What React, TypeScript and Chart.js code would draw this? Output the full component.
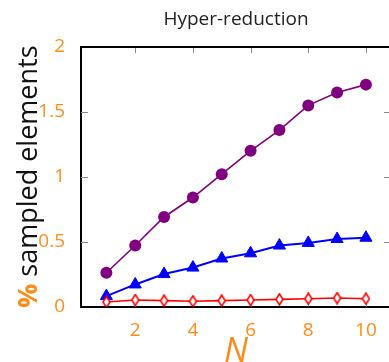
import React, { useEffect, useRef } from "react";
import { Chart, registerables } from "chart.js";

Chart.register(...registerables);

const xValues = [1, 2, 3, 4, 5, 6, 7, 8, 9, 10];
const purpleValues = [0.26, 0.47, 0.69, 0.84, 1.02, 1.2, 1.36, 1.55, 1.65, 1.71];
const blueValues = [0.08, 0.17, 0.25, 0.3, 0.37, 0.41, 0.47, 0.49, 0.52, 0.53];
const redValues = [0.035, 0.05, 0.045, 0.04, 0.045, 0.05, 0.055, 0.06, 0.065, 0.06];
const xTickValues = [2, 4, 6, 8, 10];
const yTickValues = [0, 0.5, 1, 1.5, 2];
const yInnerTicks = [0.5, 1, 1.5];
const titleText = "Hyper-reduction";
const yTitlePrefix = "%";
const yTitleRest = " sampled elements";
const xTitleText = "N";

const ORANGE = "#ff8c1a";
const FONT = "'Open Sans', Lato, sans-serif";

function makeDiamond(): HTMLCanvasElement {
  const c = document.createElement("canvas");
  c.width = 9;
  c.height = 13;
  const g = c.getContext("2d")!;
  g.beginPath();
  g.moveTo(4.5, 1);
  g.lineTo(8, 6.5);
  g.lineTo(4.5, 12);
  g.lineTo(1, 6.5);
  g.closePath();
  g.fillStyle = "#ffffff";
  g.fill();
  g.strokeStyle = "#ff0000";
  g.lineWidth = 1.6;
  g.stroke();
  return c;
}

const framePlugin = {
  id: "frame",
  beforeDatasetsDraw(chart: any) {
    const { ctx, chartArea, scales } = chart;
    const { left, right, top, bottom } = chartArea;
    const x = scales.x;
    const y = scales.y;
    ctx.save();
    ctx.strokeStyle = "#8a8a8a";
    ctx.lineWidth = 1;
    xTickValues.forEach((v) => {
      const px = Math.round(x.getPixelForValue(v)) + 0.5;
      ctx.beginPath();
      ctx.moveTo(px, top);
      ctx.lineTo(px, top + 6);
      ctx.moveTo(px, bottom);
      ctx.lineTo(px, bottom - 6);
      ctx.stroke();
    });
    yInnerTicks.forEach((v) => {
      const py = Math.round(y.getPixelForValue(v)) + 0.5;
      ctx.beginPath();
      ctx.moveTo(left, py);
      ctx.lineTo(left + 7, py);
      ctx.moveTo(right, py);
      ctx.lineTo(right - 5, py);
      ctx.stroke();
    });
    ctx.strokeStyle = "#000000";
    ctx.lineWidth = 2;
    ctx.beginPath();
    ctx.moveTo(left - 1, top);
    ctx.lineTo(right, top);
    ctx.stroke();
    ctx.restore();
  },
  afterDraw(chart: any) {
    const { ctx, chartArea } = chart;
    const { top, bottom } = chartArea;
    const cx = 236;
    ctx.save();
    // title
    ctx.fillStyle = "#222222";
    ctx.font = `19px ${FONT}`;
    ctx.textAlign = "center";
    ctx.textBaseline = "alphabetic";
    ctx.fillText(titleText, cx, 25);
    // y title
    ctx.translate(37, (top + bottom) / 2);
    ctx.rotate(-Math.PI / 2);
    ctx.font = `bold 27px ${FONT}`;
    const w1 = ctx.measureText(yTitlePrefix).width;
    ctx.font = `27px ${FONT}`;
    const w2 = ctx.measureText(yTitleRest).width;
    const start = -(w1 + w2) / 2;
    ctx.textAlign = "left";
    ctx.font = `bold 27px ${FONT}`;
    ctx.fillStyle = ORANGE;
    ctx.fillText(yTitlePrefix, start, 0);
    ctx.font = `27px ${FONT}`;
    ctx.fillStyle = "#111111";
    ctx.fillText(yTitleRest, start + w1, 0);
    ctx.restore();
    // x title
    ctx.save();
    ctx.fillStyle = ORANGE;
    ctx.font = `italic 34px ${FONT}`;
    ctx.textAlign = "center";
    ctx.textBaseline = "alphabetic";
    ctx.fillText(xTitleText, cx, 362);
    ctx.restore();
  },
};

export default function App() {
  const ref = useRef<HTMLCanvasElement | null>(null);
  useEffect(() => {
    if (!ref.current) return;
    const diamond = makeDiamond();
    const mk = (vals: number[]) => xValues.map((x, i) => ({ x, y: vals[i] }));
    const chart = new Chart(ref.current, {
      type: "line",
      data: {
        datasets: [
          {
            data: mk(redValues),
            borderColor: "#ff0000",
            borderWidth: 1.6,
            pointStyle: diamond as any,
            pointRadius: 5,
            tension: 0,
          },
          {
            data: mk(blueValues),
            borderColor: "#0000ff",
            backgroundColor: "#0000ff",
            borderWidth: 2,
            pointStyle: "triangle",
            pointRadius: 7,
            pointBorderWidth: 1,
            tension: 0,
          },
          {
            data: mk(purpleValues),
            borderColor: "#800080",
            backgroundColor: "#800080",
            borderWidth: 1.6,
            pointStyle: "circle",
            pointRadius: 6,
            pointBorderWidth: 0,
            tension: 0,
          },
        ],
      },
      options: {
        animation: false,
        responsive: false,
        devicePixelRatio: 1,
        layout: { autoPadding: false, padding: { top: 47, left: 0, right: 0, bottom: 0 } },
        plugins: { legend: { display: false }, tooltip: { enabled: false }, title: { display: false } },
        scales: {
          x: {
            type: "linear",
            min: 0.12,
            max: 10.8,
            grid: { display: false },
            border: { display: true, color: "#000000", width: 2 },
            afterBuildTicks: (s: any) => {
              s.ticks = xTickValues.map((v) => ({ value: v }));
            },
            afterFit: (s: any) => {
              s.height = 55.5;
              s.paddingLeft = 0;
              s.paddingRight = 0;
            },
            ticks: {
              color: ORANGE,
              font: { family: FONT, size: 19 },
              padding: 5,
              maxRotation: 0,
              callback: (v: any) => String(v),
            },
          },
          y: {
            type: "linear",
            min: 0,
            max: 2,
            grid: { display: false },
            border: { display: true, color: "#000000", width: 2 },
            afterBuildTicks: (s: any) => {
              s.ticks = yTickValues.map((v) => ({ value: v }));
            },
            afterFit: (s: any) => {
              s.width = 81;
              s.paddingTop = 0;
              s.paddingBottom = 0;
            },
            ticks: {
              color: ORANGE,
              font: { family: FONT, size: 19 },
              padding: 8,
              callback: (v: any) => String(v),
            },
          },
        },
      },
      plugins: [framePlugin],
    });
    return () => chart.destroy();
  }, []);
  return (
    <div style={{ position: "fixed", left: 0, top: 0, width: 389, height: 362, background: "#ffffff", overflow: "hidden" }}>
      <canvas ref={ref} width={389} height={362} style={{ display: "block" }} />
    </div>
  );
}
